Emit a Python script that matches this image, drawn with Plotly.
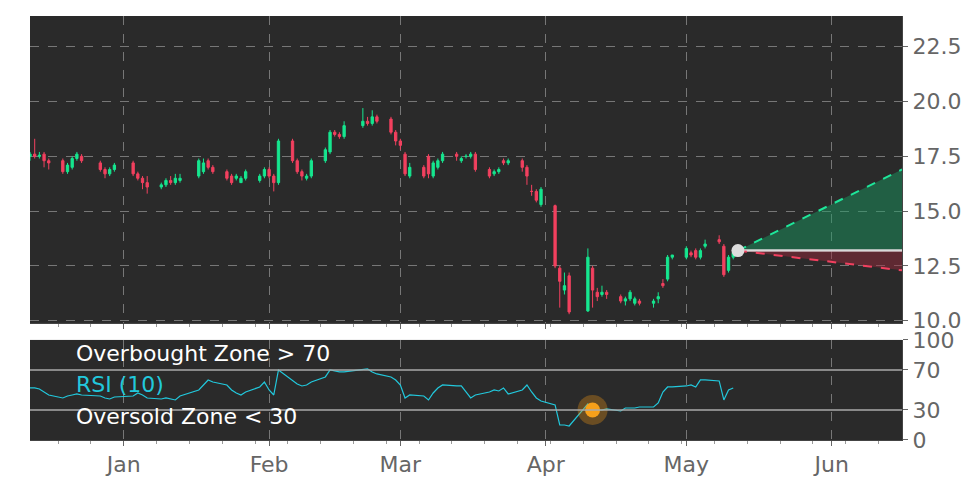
import pandas as pd
import plotly.graph_objects as go
from plotly.subplots import make_subplots

holidays = ["2022-12-26", "2023-01-02", "2023-01-16", "2023-02-20", "2023-04-07"]
dates = [d for d in pd.bdate_range("2022-12-12", "2023-05-11") if d.strftime("%Y-%m-%d") not in holidays]

opens = [17.5, 17.6, 17.5, 17.6, 17.3, 17.3, 16.8, 17.0, 17.4, 17.5, 17.2, 16.9, 16.7, 16.9,
         17.2, 16.7, 16.5, 16.3, 16.1, 16.2, 16.4, 16.3, 16.4, 16.6, 16.8, 17.3, 17.0,
         16.8, 16.6, 16.5, 16.3, 16.5, 16.4, 16.6, 16.9, 16.6, 16.3, 18.2, 17.3, 16.8, 16.5, 16.6,
         17.3, 17.7, 18.6, 18.5, 18.4, 18.9, 19.1, 19.0, 19.3, 19.2, 18.6, 18.2, 17.6, 16.6,
         17.0, 17.5, 16.6, 17.0, 17.3, 17.6, 17.3, 17.5, 17.5, 17.6, 16.9, 16.7, 16.8, 17.3, 17.2,
         17.3, 17.0, 15.9, 15.9, 15.3, 15.25, 12.4, 11.4, 12.05, 10.45, 12.4, 11.3, 11.2, 11.3,
         11.1, 10.9, 11.0, 10.8, 10.9, 10.8, 11.0, 11.7, 11.9, 12.9, 12.9, 13.1, 13.2, 12.9, 13.4,
         13.7, 13.4, 12.3, 12.9]
closes = [17.6, 17.5, 17.55, 17.3, 17.2, 16.8, 17.1, 17.4, 17.6, 17.3, 16.9, 16.7, 16.9, 17.1,
          16.7, 16.5, 16.3, 16.1, 16.2, 16.4, 16.3, 16.5, 16.5, 17.3, 17.2, 17.0, 16.8,
          16.5, 16.3, 16.6, 16.5, 16.8, 16.6, 16.9, 16.6, 16.3, 18.2, 17.3, 16.8, 16.6, 16.6, 17.3,
          17.8, 18.6, 18.5, 18.4, 18.9, 19.1, 19.0, 19.3, 19.1, 18.6, 18.2, 18.0, 16.7, 17.0,
          16.6, 16.7, 17.2, 17.3, 17.6, 17.5, 17.4, 17.5, 17.6, 16.9, 16.6, 16.8, 16.9, 17.2, 17.3,
          17.0, 16.6, 15.9, 15.5, 16.0, 12.5, 11.8, 11.6, 10.4, 12.9, 11.4, 11.1, 11.3, 11.2,
          10.9, 11.0, 11.3, 11.0, 10.8, 10.9, 11.1, 11.6, 12.9, 13.0, 13.3, 13.0, 12.9, 13.2, 13.5,
          13.6, 12.1, 12.9, 13.1]
highs = [17.7, 18.3, 17.7, 17.7, 17.4, 17.4, 17.2, 17.5, 17.7, 17.6, 17.3, 17.0, 17.0, 17.2,
         17.3, 16.8, 16.6, 16.6, 16.3, 16.5, 16.6, 16.7, 16.7, 17.4, 17.4, 17.4, 17.1,
         16.9, 16.7, 16.7, 16.6, 16.9, 16.7, 17.0, 17.0, 16.7, 18.3, 18.3, 17.4, 16.9, 16.7, 17.4,
         17.9, 18.7, 18.7, 18.6, 19.1, 19.7, 19.3, 19.6, 19.4, 19.3, 18.7, 18.3, 17.7, 17.2,
         17.1, 17.6, 17.3, 17.4, 17.7, 17.7, 17.5, 17.6, 17.7, 17.7, 17.0, 16.9, 17.0, 17.4, 17.4,
         17.4, 17.1, 16.2, 16.0, 16.1, 15.3, 12.5, 12.2, 12.2, 13.3, 12.5, 11.5, 11.6, 11.4,
         11.2, 11.1, 11.4, 11.1, 11.0, 11.0, 11.3, 11.9, 13.0, 13.0, 13.4, 13.2, 13.3, 13.3, 13.7,
         13.9, 13.5, 13.0, 13.2]
lows = [17.3, 17.4, 17.4, 17.0, 16.9, 16.7, 16.7, 16.9, 17.3, 17.2, 16.8, 16.5, 16.6, 16.8,
        16.6, 16.4, 16.0, 15.8, 16.0, 16.1, 16.2, 16.2, 16.3, 16.5, 16.7, 16.9, 16.7,
        16.4, 16.2, 16.4, 16.3, 16.4, 16.3, 16.5, 16.5, 15.9, 16.2, 17.2, 16.7, 16.4, 16.4, 16.5,
        17.2, 17.6, 18.4, 18.3, 18.3, 18.8, 18.9, 18.9, 19.0, 18.5, 18.0, 17.8, 16.6, 16.5,
        16.5, 16.5, 16.5, 16.9, 17.2, 17.3, 17.2, 17.4, 17.4, 16.8, 16.5, 16.6, 16.7, 17.1, 17.1,
        16.8, 16.2, 15.7, 15.4, 15.2, 12.4, 10.6, 11.2, 10.3, 10.4, 10.6, 10.9, 11.1, 11.0,
        10.8, 10.7, 10.9, 10.7, 10.7, 10.6, 10.8, 11.5, 11.8, 12.8, 12.8, 12.9, 12.8, 12.8, 13.3,
        13.5, 12.0, 12.2, 12.8]
rsi = [52, 52, 51, 48, 45, 42, 44, 45, 46, 45, 44, 42, 41, 43,
       44, 47, 45, 42, 41, 42, 41, 40, 44, 50, 55, 60, 58,
       55, 50, 47, 45, 48, 53, 58, 50, 45, 70, 60, 56, 54, 55, 58,
       63, 70, 69, 68, 68, 70, 71, 68, 66, 63, 60, 55, 42, 45,
       44, 40, 47, 52, 55, 54, 54, 48, 42, 45, 48, 50, 49, 52, 46,
       50, 55, 48, 42, 39, 35, 15, 15, 14, 36, 31, 30, 30, 31,
       29, 32, 32, 32, 33, 33, 37, 48, 53, 53, 54, 55, 53, 60, 60,
       59, 40, 50, 52]

last_date = "2023-05-12"
last_price = 13.2
proj_end = "2023-06-16"
proj_up = 16.9
proj_down = 12.3
signal_date = "2023-04-11"
signal_rsi = 30

fig = make_subplots(rows=2, cols=1, shared_xaxes=True, row_heights=[0.74, 0.26], vertical_spacing=0.04)

fig.add_trace(go.Candlestick(x=dates, open=opens, high=highs, low=lows, close=closes,
                             increasing=dict(line=dict(color="#16e68f", width=1), fillcolor="#16e68f"),
                             decreasing=dict(line=dict(color="#f2405f", width=1), fillcolor="#f2405f"),
                             whiskerwidth=0, showlegend=False), row=1, col=1)

# projection cone
fig.add_trace(go.Scatter(x=[last_date, proj_end], y=[last_price, last_price], mode="lines",
                         line=dict(color="#d8d8d8", width=2), showlegend=False), row=1, col=1)
fig.add_trace(go.Scatter(x=[last_date, proj_end], y=[last_price, proj_up], mode="lines", fill="tonexty",
                         fillcolor="rgba(22,160,100,0.45)", line=dict(color="#1ee69a", width=2, dash="dash"),
                         showlegend=False), row=1, col=1)
fig.add_trace(go.Scatter(x=[last_date, proj_end], y=[last_price, last_price], mode="lines",
                         line=dict(color="#d8d8d8", width=2), showlegend=False), row=1, col=1)
fig.add_trace(go.Scatter(x=[last_date, proj_end], y=[last_price, proj_down], mode="lines", fill="tonexty",
                         fillcolor="rgba(160,40,60,0.45)", line=dict(color="#f2405f", width=2, dash="dash"),
                         showlegend=False), row=1, col=1)
fig.add_trace(go.Scatter(x=[last_date], y=[last_price], mode="markers",
                         marker=dict(color="#dddddd", size=13), showlegend=False), row=1, col=1)

# RSI
fig.add_trace(go.Scatter(x=dates, y=rsi, mode="lines", line=dict(color="#22c8dc", width=1.2),
                         showlegend=False), row=2, col=1)
fig.add_trace(go.Scatter(x=[signal_date], y=[signal_rsi], mode="markers",
                         marker=dict(color="rgba(255,160,20,0.3)", size=30), showlegend=False), row=2, col=1)
fig.add_trace(go.Scatter(x=[signal_date], y=[signal_rsi], mode="markers",
                         marker=dict(color="#f7a01a", size=15), showlegend=False), row=2, col=1)
for lvl in [70, 30]:
    fig.add_hline(y=lvl, line=dict(color="#aaaaaa", width=1.5), row=2, col=1)

for txt, yv, col in [("Overbought Zone > 70", 86, "white"), ("RSI (10)", 55, "#22c8dc"),
                     ("Oversold Zone < 30", 23, "white")]:
    fig.add_annotation(x=0.05, y=yv, xref="paper", yref="y2", text=txt, showarrow=False, xanchor="left",
                       font=dict(size=22, color=col))

axis_common = dict(gridcolor="#777777", griddash="dash", showline=True, linecolor="#444444",
                   tickfont=dict(size=22, color="#666666"), zeroline=False, automargin=False)
fig.update_xaxes(**axis_common, range=["2022-12-12", "2023-06-16"], rangeslider_visible=False,
                 dtick="M1", tickformat="%b", ticks="outside", ticklen=5, tickcolor="#666666",
                 minor=dict(ticks="outside", ticklen=3, dtick=7 * 86400000, tickcolor="#999999", showgrid=False))
fig.update_xaxes(showticklabels=False, row=1, col=1)
fig.update_yaxes(**axis_common, side="right", ticks="outside", tickcolor="#666666")
fig.update_yaxes(range=[9.9, 23.9], tickvals=[10, 12.5, 15, 17.5, 20, 22.5], domain=[0.276, 1],
                 ticktext=["10.0", "12.5", "15.0", "17.5", "20.0", "22.5"], row=1, col=1)
fig.update_yaxes(range=[0, 100], tickvals=[0, 30, 70, 100], showgrid=False, domain=[0, 0.236], row=2, col=1)

fig.update_layout(width=956, height=470, paper_bgcolor="white", plot_bgcolor="#2a2a2a",
                  margin=dict(l=22, r=62, t=8, b=38, autoexpand=False), font=dict(family="DejaVu Sans"))

fig.write_html("out.html")
